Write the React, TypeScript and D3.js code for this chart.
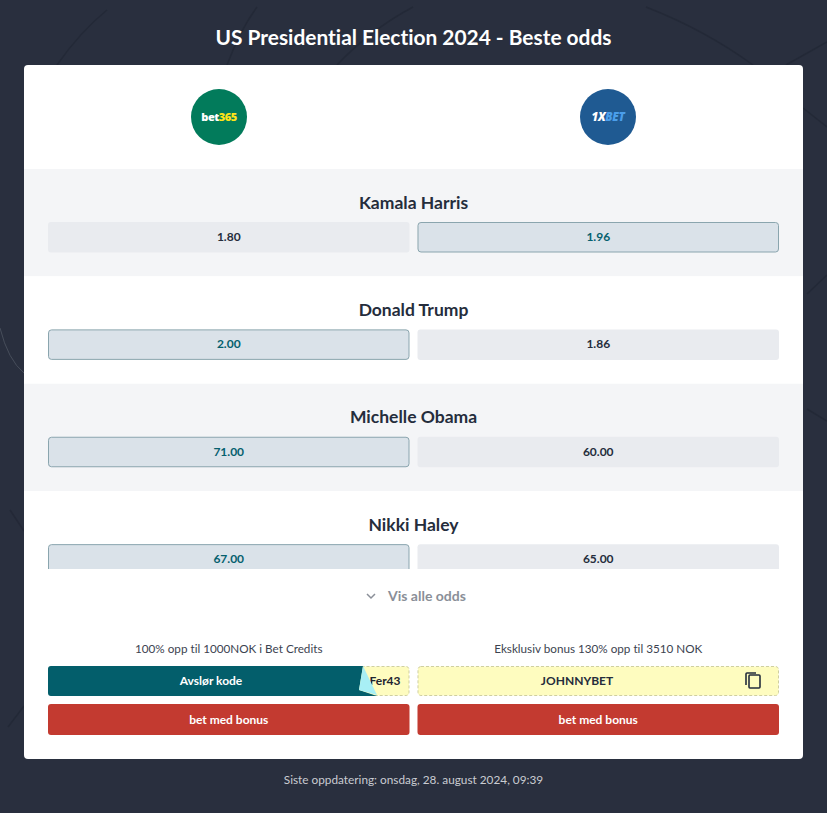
import React from 'react';
import * as d3 from 'd3';

const candidates = ['Kamala Harris', 'Donald Trump', 'Michelle Obama', 'Nikki Haley'];
const bookmakers = ['bet365', '1XBET'];
const bet365Odds = ['1.80', '2.00', '71.00', '67.00'];
const oneXBetOdds = ['1.96', '1.86', '60.00', '65.00'];
const bonusTexts = ['100% opp til 1000NOK i Bet Credits', 'Eksklusiv bonus 130% opp til 3510 NOK'];

const width = 827;
const height = 813;
const font = 'Lato, sans-serif';

// faint swooshes in the page background
const swooshes = [
    'M107 10 Q80 32 57 65',
    'M257 7 Q240 30 227 65',
    'M413 7 Q370 30 337 65',
    'M646 7 Q705 30 753 65',
    'M827 42 L786 65',
    'M10 510 L24 531',
    'M8 727 L24 706',
    'M803 108 L827 127',
    'M807 294 L827 275',
    'M807 409 L827 421'
];

const xScale = d3.scaleBand<string>()
    .domain(bookmakers)
    .range([48, 779])
    .paddingInner(0.0216);

const rowScale = d3.scaleBand<string>()
    .domain(candidates)
    .range([169, 598.5]);

const bookX = (i: number) => xScale(bookmakers[i]) as number;

const App = () => {
    const bw = xScale.bandwidth();
    const rh = rowScale.bandwidth();
    const linkPath = d3.line().curve(d3.curveLinear);

    return (
        <svg width={width} height={height} style={{ position: 'absolute', left: 0, top: 0, display: 'block', fontVariantLigatures: 'none' }} fontFamily={font}>
            <defs>
                <clipPath id="rows">
                    <rect x={24} y={169} width={779} height={400} />
                </clipPath>
            </defs>
            <rect width={width} height={height} fill="#292f3e" />
            {swooshes.map((d, i) => (
                <path key={i} d={d} fill="none" stroke="#232937" strokeWidth={1.5} />
            ))}
            <path d="M0 328 Q8 360 24 373" fill="none" stroke="#474e5b" strokeWidth={1} />

            <text x={413.5} y={44.5} textAnchor="middle" fontSize={20.9} fontWeight={700} fill="#fff">
                US Presidential Election 2024 - Beste odds
            </text>

            <rect x={24} y={65} width={779} height={694} rx={4} fill="#fff" />

            {/* logos */}
            <circle cx={219} cy={117} r={28} fill="#027b5b" />
            <text x={219} y={121} textAnchor="middle" fontSize={11} fontWeight={900} fill="#fff" fontFamily="'Open Sans', sans-serif" letterSpacing={-0.5}>
                bet<tspan fill="#ffe418">365</tspan>
            </text>
            <circle cx={608} cy={117} r={28} fill="#1f5a92" />
            <text x={608} y={121} textAnchor="middle" fontSize={11.5} fontWeight={900} fontStyle="italic" fill="#fff" fontFamily="'Open Sans', sans-serif" letterSpacing={-0.3}>
                1X<tspan fill="#4a9eea">BET</tspan>
            </text>

            {/* odds rows */}
            <g clipPath="url(#rows)">
                {candidates.map((name, r) => {
                    const y = rowScale(name) as number;
                    const odds = [bet365Odds[r], oneXBetOdds[r]];
                    const best = d3.max(odds, d => +d);
                    return (
                        <g key={name}>
                            <rect x={24} y={y} width={779} height={rh} fill={r % 2 === 0 ? '#f4f5f7' : '#fff'} />
                            <text x={413.5} y={y + 39.5} textAnchor="middle" fontSize={17.5} fontWeight={700} fill="#252d3c">{name}</text>
                            {odds.map((o, i) => {
                                const isBest = +o === best;
                                return (
                                    <g key={i}>
                                        <rect
                                            x={bookX(i) + (isBest ? 0.5 : 0)}
                                            y={y + (isBest ? 53.5 : 53)}
                                            width={bw - (isBest ? 1 : 0)}
                                            height={isBest ? 29.5 : 30.5}
                                            rx={3}
                                            fill={isBest ? '#dae2e9' : '#e9ebef'}
                                            stroke={isBest ? '#8aa5ae' : 'none'}
                                        />
                                        <text x={bookX(i) + bw / 2} y={y + 72} textAnchor="middle" fontSize={12} fontWeight={700} fill={isBest ? '#05606e' : '#252d3c'}>{o}</text>
                                    </g>
                                );
                            })}
                        </g>
                    );
                })}
            </g>

            {/* show all */}
            <path d={linkPath([[367, 594], [371, 598], [375, 594]]) as string} fill="none" stroke="#8a8f98" strokeWidth={1.5} />
            <text x={388} y={600.5} fontSize={14} fontWeight={700} fill="#8a8f98">Vis alle odds</text>

            {/* bonus */}
            {bonusTexts.map((t, i) => (
                <text key={t} x={bookX(i) + bw / 2} y={653} textAnchor="middle" fontSize={11.7} fill="#3c4350">{t}</text>
            ))}

            <rect x={bookX(0) + 0.5} y={666.5} width={bw - 1} height={29} rx={3} fill="#fefcbf" stroke="#cfcfa0" strokeDasharray="3 2" />
            <rect x={bookX(1) + 0.5} y={666.5} width={bw - 1} height={29} rx={3} fill="#fefcbf" stroke="#cfcfa0" strokeDasharray="3 2" />
            <text x={385} y={685} textAnchor="middle" fontSize={12} fontWeight={700} fill="#1d2430">Fer43</text>
            <path d="M48 669 a3 3 0 0 1 3 -3 L363 666 L359 690 L377 696 L51 696 a3 3 0 0 1 -3 -3 Z" fill="#035e6b" />
            <path d="M363 666 L377 695 L359 690 Z" fill="#a8eff5" />
            <text x={211} y={685} textAnchor="middle" fontSize={12} fontWeight={700} fill="#fff">Avslør kode</text>
            <text x={577} y={685} textAnchor="middle" fontSize={12} fontWeight={700} fill="#252d3c">JOHNNYBET</text>

            {/* copy icon */}
            <g fill="none" stroke="#252d3c" strokeWidth={1.6}>
                <rect x={749} y={675} width={11} height={13} rx={1} />
                <path d="M746 685 L746 674 Q746 673 747 673 L756 673" />
            </g>

            {bookmakers.map((b, i) => (
                <g key={b}>
                    <rect x={bookX(i)} y={704} width={bw} height={31} rx={3} fill="#c33a30" />
                    <text x={bookX(i) + bw / 2} y={724} textAnchor="middle" fontSize={12} fontWeight={700} fill="#fff">bet med bonus</text>
                </g>
            ))}

            <text x={413.5} y={784} textAnchor="middle" fontSize={11.8} fill="#c9ccd2">Siste oppdatering: onsdag, 28. august 2024, 09:39</text>
        </svg>
    );
};

export default App;
